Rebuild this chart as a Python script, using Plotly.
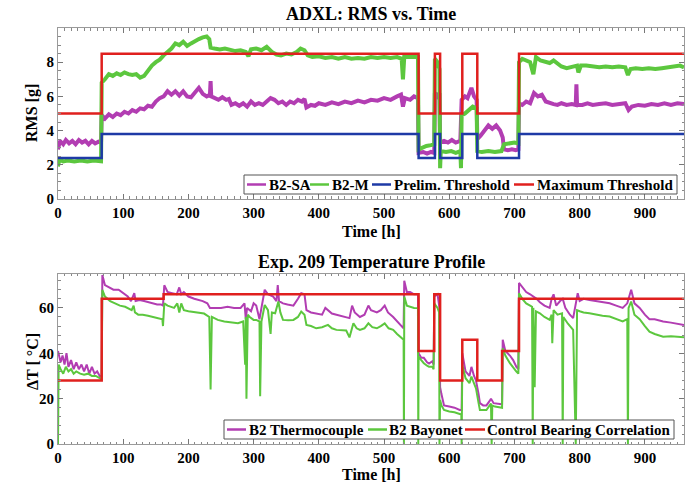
import plotly.graph_objects as go
from plotly.subplots import make_subplots

# ---------------- Top panel data: ADXL RMS vs time ----------------
sa_t = [0, 3, 8, 12, 17, 22, 27, 32, 37, 42, 47, 52, 57, 62, 66,
        67, 72, 78, 84, 90, 96, 102, 108, 114, 120, 126, 132, 138, 144, 150,
        156, 162, 168, 174, 180, 186, 192, 198, 204, 210, 216, 222, 228, 233,
        234, 235, 240, 246, 252, 258, 262, 266, 272, 278, 284, 290, 296, 302,
        308, 314, 320, 326, 332, 338, 344, 350, 356, 362, 368, 374, 378, 381,
        388, 394, 400, 410, 420, 430, 440, 450, 460, 470, 480, 490, 500, 510,
        520, 526, 529, 532, 540, 546, 552,
        553, 560, 566, 572, 577, 578, 582, 585, 586, 592, 598, 604, 610, 617,
        619, 624, 628, 634, 638, 642, 643, 648, 654, 660, 666, 672, 678, 682,
        684, 690, 696, 702, 706, 707, 712, 718, 724, 730, 736, 742, 748, 754,
        760, 766, 772, 780, 788, 794, 795, 796, 804, 812, 820, 830, 840, 850,
        860, 870, 875, 880, 890, 900, 910, 920, 930, 940, 950, 960]
sa_v = [2.9, 3.4, 3.2, 3.45, 3.25, 3.4, 3.2, 3.45, 3.3, 3.4, 3.2, 3.4, 3.25, 3.35, 3.3,
        4.9, 4.7, 4.95, 4.8, 5.0, 4.9, 5.1, 5.0, 5.2, 5.1, 5.3, 5.25, 5.45, 5.4, 5.7,
        5.9, 6.0, 6.3, 6.1, 6.3, 6.05, 6.3, 6.0, 5.95, 6.2, 6.5, 6.15, 6.0, 6.1,
        6.9, 6.0, 5.9, 5.8, 5.95, 5.8, 5.85, 5.5, 5.6, 5.45, 5.6, 5.4, 5.7, 5.5,
        5.6, 5.5, 5.7, 5.9, 5.8, 5.6, 5.7, 5.5, 5.7, 5.6, 5.8, 5.7, 5.85, 5.35,
        5.5, 5.45, 5.6, 5.5, 5.65, 5.55, 5.7, 5.6, 5.75, 5.65, 5.8, 5.75, 5.9, 5.8,
        6.0, 6.1, 5.4, 5.9, 5.8, 6.0, 5.9,
        2.7, 2.75, 2.65, 2.75, 2.7, 6.2, 6.0, 6.2, 3.3, 3.4, 3.3, 3.45, 3.3, 3.4,
        5.8, 6.0, 5.9, 6.5, 6.0, 5.8, 3.5, 3.7, 4.0, 4.3, 4.1, 4.3, 4.0, 3.6,
        2.9, 2.85, 2.9, 2.85, 2.9, 5.6, 5.5, 5.7, 5.6, 6.2, 6.0, 6.1, 5.7, 5.6,
        5.55, 5.5, 5.6, 5.5, 5.55, 5.5, 6.7, 5.5, 5.5, 5.6, 5.5, 5.55, 5.6, 5.5,
        5.55, 5.6, 5.2, 5.4, 5.5, 5.45, 5.55, 5.5, 5.6, 5.5, 5.6, 5.55]

m_t = [0, 2, 8, 15, 25, 35, 45, 55, 66,
       67, 72, 78, 84, 90, 96, 102, 108, 114, 120, 126, 132, 138, 144, 150,
       156, 162, 168, 174, 180, 186, 192, 198, 204, 210, 216, 222, 228, 232,
       234, 240, 248, 256, 264, 272, 280, 288, 292, 296, 304, 312, 320, 328,
       335, 342, 350, 358, 366, 372, 378, 383, 390, 400, 410, 420, 430, 440,
       450, 460, 470, 480, 490, 500, 510, 520, 527, 529, 531, 540, 552,
       553, 558, 565, 572, 577, 578, 582, 585, 586, 587, 595, 603, 610, 617,
       618, 619, 624, 630, 636, 642, 643, 650, 660, 670, 680, 684, 692, 700,
       706, 707, 712, 718, 724, 729, 733, 740, 748, 754, 760, 766, 772, 780,
       788, 796, 798, 802, 810, 820, 830, 840, 850, 860, 870, 874, 878, 886,
       896, 906, 916, 926, 936, 946, 954, 960]
m_v = [1.9, 2.3, 2.2, 2.25, 2.2, 2.25, 2.2, 2.25, 2.2,
       6.8, 7.0, 7.3, 7.2, 7.35, 7.25, 7.4, 7.3, 7.25, 7.3, 7.1, 7.2, 7.5, 7.8, 8.0,
       8.15, 8.4, 8.6, 8.8, 9.1, 9.0, 9.2, 8.95, 9.1, 9.25, 9.35, 9.45, 9.5, 9.35,
       8.85, 8.8, 8.75, 8.8, 8.7, 8.65, 8.7, 8.6, 8.35, 8.75, 8.8, 8.7, 8.9, 8.6,
       8.45, 8.4, 8.5, 8.45, 8.6, 8.8, 8.7, 8.4, 8.3, 8.35, 8.25, 8.3, 8.2, 8.3,
       8.2, 8.25, 8.2, 8.3, 8.25, 8.3, 8.25, 8.3, 8.2, 7.0, 8.3, 8.3, 8.3,
       2.9, 3.0, 3.1, 3.15, 3.2, 8.2, 8.0, 7.6, 1.8, 2.8, 2.75, 2.8, 2.7, 2.8,
       1.8, 4.9, 5.0, 5.2, 5.4, 5.3, 2.8, 2.75, 2.8, 2.75, 2.8, 3.2, 3.25, 3.3,
       3.25, 8.0, 8.2, 8.1, 8.0, 7.3, 8.3, 8.1, 8.0, 7.95, 8.1, 7.9, 7.75, 7.65,
       7.75, 7.8, 7.4, 7.8, 7.8, 7.75, 7.7, 7.75, 7.7, 7.75, 7.7, 7.25, 7.6, 7.65,
       7.6, 7.65, 7.6, 7.65, 7.7, 7.75, 7.8, 7.7]

thr_t = [0, 67, 553, 578, 586, 620, 643, 707, 960]
prelim_v = [2.4, 3.8, 2.4, 3.8, 2.4, 3.8, 2.4, 3.8, 3.8]
max_v = [5.0, 8.5, 5.0, 8.5, 5.0, 8.5, 5.0, 8.5, 8.5]

# ---------------- Bottom panel data: temperature profile ----------------
tc_t = [0, 2, 4, 7, 10, 13, 16, 20, 24, 28, 32, 36, 40, 44, 48, 52, 56, 60, 64, 67,
        68, 72, 78, 85, 93, 100, 107, 112, 117, 119, 125, 132, 138, 145, 152, 158, 161,
        163, 168, 175, 182, 186, 189, 193, 200, 209, 215, 222, 229, 233, 240, 250, 260,
        270, 280, 286, 288, 290, 296, 300, 304, 309, 312, 317, 322, 330, 335, 337, 339,
        345, 352, 361, 368, 373, 378, 381, 388, 396, 405, 410, 414, 420, 427, 435, 442,
        447, 451, 455, 463, 470, 476, 480, 489, 495, 501, 506, 514, 520, 527, 530, 531,
        535, 540, 546, 552, 553, 557, 561, 566, 569, 574, 576, 577, 582, 585, 586, 588,
        592, 600, 608, 616, 619, 620, 625, 631, 634, 638, 641, 645, 647, 652, 657, 662,
        664, 668, 677, 681, 682, 686, 693, 698, 703, 706, 707, 712, 718, 724, 729, 734,
        739, 746, 754, 757, 760, 764, 770, 774, 778, 785, 790, 794, 797, 800, 806, 815,
        825, 835, 846, 856, 866, 873, 879, 884, 892, 900, 907, 915, 928, 940, 950, 960]
tc_v = [41, 38, 36, 39, 35, 40, 34, 37, 33, 36, 33, 35, 32, 35, 31, 34, 31, 32, 30, 30,
        74.5, 70, 69, 68, 68, 66.5, 65, 63, 66.5, 63, 63.5, 63, 62.5, 62, 61.5, 61.5, 61,
        70, 67, 66.5, 66, 69, 66, 67, 65, 64, 63.5, 63, 62, 60, 60, 60, 60.5,
        60, 60, 62, 55, 60, 58.5, 62, 61, 55, 60, 68, 66, 65, 63, 70, 63,
        62, 61.5, 61, 64, 66.5, 66, 59, 58, 57.5, 57, 60, 59, 57.5, 57, 56.5, 56,
        55.5, 61, 58, 56, 57, 61, 59, 58, 59, 61, 58, 56, 54, 52, 51, 72,
        67, 67, 66, 66, 40, 38, 38, 36, 35.5, 36.5, 35, 65, 66, 60, 25, 22,
        17, 16.5, 16, 15, 15, 40, 32, 30, 34, 30, 28, 22, 18, 17, 17, 19,
        20, 18, 17.5, 17.5, 46, 41, 39, 37, 34, 33, 71, 69, 67, 66, 65, 64,
        62.5, 61, 60, 64, 66, 61, 63, 64, 60, 57, 55.5, 62, 66.5, 63, 64, 63.5,
        63, 62.5, 62, 61, 60, 62, 68, 62, 60, 57, 55, 55, 54, 53.5, 53, 52.5]

bay_t = [0, 1, 4, 8, 12, 16, 20, 24, 28, 34, 40, 46, 52, 58, 64, 67,
         68, 72, 80, 88, 95, 103, 110, 113, 116, 118, 123, 130, 138, 145, 153, 160, 161,
         163, 168, 173, 178, 183, 186, 189, 193, 200, 210, 218, 224, 232, 234, 236, 245,
         255, 265, 276, 284, 287, 288, 289, 291, 294, 300, 304, 309, 310, 312, 317, 322,
         326, 328, 333, 338, 341, 345, 353, 361, 368, 373, 378, 381, 388, 396, 405, 414,
         420, 427, 435, 442, 447, 449, 453, 458, 463, 470, 476, 482, 489, 495, 501, 507,
         514, 520, 527, 530, 530.5, 531, 535, 540, 546, 552, 552.5, 553, 557, 561, 566,
         569, 574, 576, 577, 582, 584.5, 585, 586, 588, 592, 600, 608, 616, 618.5, 619,
         620, 625, 631, 634, 638, 641, 645, 647, 652, 657, 662, 664, 665, 666, 670, 677,
         681, 682, 686, 693, 698, 703, 706, 707, 712, 718, 724, 727, 728, 729, 731, 733,
         739, 746, 754, 757, 758, 760, 766, 773, 774, 775, 782, 790, 794, 796, 800, 806,
         815, 825, 835, 846, 856, 866, 873, 874, 875, 879, 884, 892, 900, 907, 915, 928,
         940, 950, 960]
bay_v = [0, 35, 33, 31, 34, 32, 33, 31, 32, 31, 30.5, 31, 30, 30, 29, 28.5,
         68, 65, 63, 62, 61, 60.5, 59.5, 59, 61, 58, 57, 57, 56.5, 56, 55.5, 55, 52,
         62, 61, 60.5, 60, 62, 58, 62, 59, 58.5, 58, 57.5, 57.5, 56, 24, 56, 54.7,
         54, 53.5, 53.2, 54, 35, 56, 20, 57, 56, 54.7, 54.7, 54, 21, 54, 61.3, 59,
         48.5, 58, 57.6, 62.8, 58, 54.7, 54.5, 54.7, 56, 58.4, 57, 52.5, 52, 51, 51.5, 52.5,
         51, 50.3, 50, 50, 47, 49.5, 53.2, 51, 50.3, 51, 53.2, 51.5, 51, 52, 53.2, 51,
         50.3, 48.5, 46.6, 46, 0, 65, 61, 60.5, 60, 59.9, 0, 38.5, 37, 35.6, 34.5,
         34, 34, 33, 62, 60, 58, 0, 19.4, 17, 15, 14.3, 14, 13, 13, 0,
         34.8, 29, 26.8, 29.7, 27, 24.5, 18, 15, 15, 15, 17, 17.8, 0, 17, 16.5, 16,
         16, 42.2, 39, 35.6, 33.5, 31.9, 31, 66.5, 64, 62, 61, 60.5, 0, 60, 25, 58.5,
         57.6, 56, 54.7, 57, 44.4, 59, 57, 57.6, 0, 56, 53, 50.3, 0, 59, 58.5, 58,
         57.6, 57, 56.5, 56.2, 55, 54, 55, 0, 60, 62.8, 57, 55, 52, 49.5, 48.5, 47.3,
         47.5, 47.3, 47]

cbc_t = [0, 67, 162, 553, 577, 586, 620, 643, 681, 707, 960]
cbc_v = [28, 64, 66, 41, 66, 28, 46, 28, 41, 64, 64]

top_legend_labels = ["B2-SA", "B2-M", "Prelim. Threshold", "Maximum Threshold"]
bottom_legend_labels = ["B2 Thermocouple", "B2 Bayonet", "Control Bearing Correlation"]

# ---------------- Styling ----------------
MAG = "#B23DB2"
GRN = "#5CC73E"
BLU = "#1E3AA6"
RED = "#E0201E"
FONT = "Liberation Serif"

fig = make_subplots(rows=2, cols=1, vertical_spacing=0.18)

fig.add_trace(go.Scatter(x=sa_t, y=sa_v, mode="lines", name=top_legend_labels[0],
                         line=dict(color=MAG, width=4)), row=1, col=1)
fig.add_trace(go.Scatter(x=m_t, y=m_v, mode="lines", name=top_legend_labels[1],
                         line=dict(color=GRN, width=4)), row=1, col=1)
fig.add_trace(go.Scatter(x=thr_t, y=prelim_v, mode="lines", name=top_legend_labels[2],
                         line=dict(color=BLU, width=2.5, shape="hv")), row=1, col=1)
fig.add_trace(go.Scatter(x=thr_t, y=max_v, mode="lines", name=top_legend_labels[3],
                         line=dict(color=RED, width=2.5, shape="hv")), row=1, col=1)

fig.add_trace(go.Scatter(x=tc_t, y=tc_v, mode="lines", name=bottom_legend_labels[0],
                         line=dict(color=MAG, width=2)), row=2, col=1)
fig.add_trace(go.Scatter(x=bay_t, y=bay_v, mode="lines", name=bottom_legend_labels[1],
                         line=dict(color=GRN, width=2)), row=2, col=1)
fig.add_trace(go.Scatter(x=cbc_t, y=cbc_v, mode="lines", name=bottom_legend_labels[2],
                         line=dict(color=RED, width=2.5, shape="hv")), row=2, col=1)

axis_common = dict(showline=True, mirror="ticks", linecolor="#9a9a9a", linewidth=1,
                   ticks="inside", ticklen=5, tickcolor="#777", showgrid=False, zeroline=False,
                   tickfont=dict(family=FONT, size=15, color="black", weight="bold"))

for r in (1, 2):
    fig.update_xaxes(range=[0, 960], tickvals=[0, 100, 200, 300, 400, 500, 600, 700, 800, 900],
                     minor=dict(ticks="inside", dtick=10, tick0=0, ticklen=2.5, tickcolor="#888"),
                     **axis_common, row=r, col=1)

fig.update_yaxes(range=[0, 10], tickvals=[0, 2, 4, 6, 8],
                 minor=dict(ticks="inside", dtick=0.5, tick0=0, ticklen=2.5, tickcolor="#888"),
                 **axis_common, row=1, col=1)
fig.update_yaxes(range=[0, 75], tickvals=[0, 20, 40, 60],
                 minor=dict(ticks="inside", dtick=4, tick0=0, ticklen=2.5, tickcolor="#888"),
                 **axis_common, row=2, col=1)

fig.update_layout(
    xaxis=dict(domain=[0, 1]), xaxis2=dict(domain=[0, 1]),
    yaxis=dict(domain=[0.589, 1.0]), yaxis2=dict(domain=[0.0, 0.409]),
    width=694, height=485,
    margin=dict(l=58, r=10, t=28, b=41),
    plot_bgcolor="white", paper_bgcolor="white",
    showlegend=False,
)

# ---- pixel -> paper helpers (plot area: x 58..684, y 28..444) ----
def px(x):
    return (x - 58) / 626.0

def py(y):
    return (444 - y) / 416.0

title_font = dict(family=FONT, size=18, color="black", weight="bold")
axtitle_font = dict(family=FONT, size=16, color="black", weight="bold")
leg_font = dict(family=FONT, size=15, color="black", weight="bold")

ann = [
    dict(text="ADXL: RMS vs. Time", x=0.5, y=py(14), font=title_font),
    dict(text="Time [h]", x=0.5, y=py(231), font=axtitle_font),
    dict(text="RMS [g]", x=px(32), y=py(113), textangle=-90, font=axtitle_font),
    dict(text="Exp. 209 Temperature Profile", x=0.5, y=py(262), font=title_font),
    dict(text="Time [h]", x=0.5, y=py(474), font=axtitle_font),
    dict(text="ΔT [ °C]", x=px(32), y=py(362), textangle=-90, font=axtitle_font),
]
for a in ann:
    a.update(xref="paper", yref="paper", showarrow=False,
             xanchor="center", yanchor="middle")

shapes = []

def add_legend(box, mid_y, lines, text_x, labels, colors):
    x0, x1, y0, y1 = box
    shapes.append(dict(type="rect", xref="paper", yref="paper",
                       x0=px(x0), x1=px(x1), y0=py(y1), y1=py(y0),
                       line=dict(color="#555", width=1), fillcolor="white", layer="above"))
    for (lx0, lx1), tx, lab, col in zip(lines, text_x, labels, colors):
        shapes.append(dict(type="line", xref="paper", yref="paper",
                           x0=px(lx0), x1=px(lx1), y0=py(mid_y), y1=py(mid_y),
                           line=dict(color=col, width=2.5), layer="above"))
        ann.append(dict(text=lab, x=px(tx), y=py(mid_y), xref="paper", yref="paper",
                        showarrow=False, font=leg_font, xanchor="left", yanchor="middle"))

add_legend((244, 677, 175, 194), 184.5,
           [(247, 266), (310, 329), (372, 391), (514, 534)],
           [267, 330, 392, 535], top_legend_labels, [MAG, GRN, BLU, RED])
add_legend((224, 674, 420, 439), 429.5,
           [(227, 246), (368, 387), (465, 485)],
           [247, 387, 485], bottom_legend_labels, [MAG, GRN, RED])

fig.update_layout(annotations=ann, shapes=shapes)

fig.write_html("out.html", post_script="document.body.style.margin='0';",
               config={"displayModeBar": False})
